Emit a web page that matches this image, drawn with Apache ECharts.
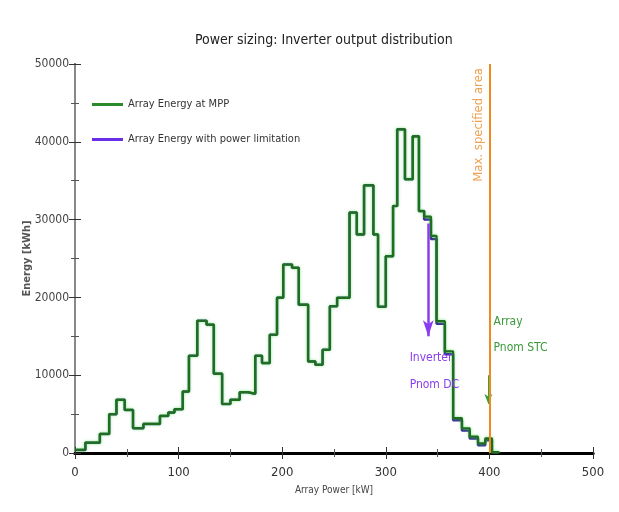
<!DOCTYPE html>
<html>
<head>
<meta charset="utf-8">
<script src="https://cdn.jsdelivr.net/npm/echarts@6/dist/echarts.min.js"></script>
<style>html,body{margin:0;padding:0;background:#fff}#c{width:619px;height:512px}</style>
</head>
<body>
<div id="c"></div>
<script>
// Histogram bins (lower edge, kW)
const binStartKW = [0,10,24,33,40,48,56,66,82,90,96,104,110,118,127,134,142,150,159,167,174,180.5,188,195,201,209.5,216,225,232,239,246,253,265,272,279,288,292.5,300,307,311,318.5,326,332,337,343.6,349,357,365,373.5,381,389,396,402.5];
const binEndKW = 409;
// Array Energy at MPP [kWh]
const energyAtMPP = [400,1330,2450,4980,6830,5540,3180,3740,4770,5200,5630,7900,12500,17000,16500,10200,6300,6830,7820,7600,12500,11560,15200,19970,24230,23800,19070,11770,11340,13270,18860,19940,30900,28100,34400,28100,18800,25300,31750,41600,35200,40700,31100,30370,27900,16940,13060,4470,3180,2100,1250,1890,100];
// Array Energy with power limitation [kWh]
const energyLimited = [400,1330,2450,4980,6830,5540,3180,3740,4770,5200,5630,7900,12500,17000,16500,10200,6300,6830,7820,7600,12500,11560,15200,19970,24230,23800,19070,11770,11340,13270,18860,19940,30900,28100,34400,28100,18800,25300,31750,41600,35200,40700,31100,30000,27500,16600,12700,4200,2900,1850,1000,1650,100];
// Annotations
const inverterPnomDC = 341;
const inverterArrow = [29500, 15000];
const arrayPnomSTC = 400;
const stcArrow = [10000, 6300];
const xTicks = [0, 500, 100];
const yTicks = [0, 50000, 10000];

const FONT = "'Liberation Sans Narrow','DejaVu Sans Condensed','Roboto Condensed',sans-serif";

function stepData(vals) {
  const d = binStartKW.map((x, i) => [x, vals[i]]);
  d.push([binEndKW, 0]);
  return d;
}

const chart = echarts.init(document.getElementById('c'), null, {renderer: 'canvas'});
const axisCommonX = {
  type: 'value', min: xTicks[0], max: xTicks[1], interval: xTicks[2],
  splitLine: {show: false},
  axisTick: {inside: true, length: 6, lineStyle: {color: '#333', width: 1}},
  minorTick: {show: true, splitNumber: 2, length: 4, lineStyle: {color: '#555'}},
  minorSplitLine: {show: false}
};
const axisCommonY = {
  type: 'value', min: yTicks[0], max: yTicks[1], interval: yTicks[2],
  splitLine: {show: false},
  axisTick: {inside: true, length: 6, lineStyle: {color: '#333', width: 1}},
  minorTick: {show: true, splitNumber: 2, length: 4, lineStyle: {color: '#555'}},
  minorSplitLine: {show: false}
};

chart.setOption({
  animation: false,
  backgroundColor: '#fff',
  title: {
    text: 'Power sizing: Inverter output distribution',
    left: 190, top: 28,
    textStyle: {fontFamily: FONT, fontSize: 14, fontWeight: 'normal', color: '#222'}
  },
  grid: {left: 75, right: 26, top: 64, bottom: 59, containLabel: false, outerBoundsMode: 'none'},
  legend: {
    orient: 'vertical', left: 87, top: 94, itemGap: 24,
    itemWidth: 31, itemHeight: 3, icon: 'rect',
    textStyle: {fontFamily: FONT, fontSize: 11, color: '#333'},
    data: [
      {name: 'Array Energy at MPP', itemStyle: {color: '#2a8a2a'}},
      {name: 'Array Energy with power limitation', itemStyle: {color: '#6a2ee8'}}
    ]
  },
  xAxis: [
    Object.assign({}, axisCommonX, {
      position: 'bottom',
      axisLine: {lineStyle: {color: '#000', width: 3}},
      axisLabel: {fontFamily: FONT, fontSize: 13, color: '#333', margin: 13},
      name: 'Array Power [kW]', nameLocation: 'middle', nameGap: 32, nameMoveOverlap: false,
      nameTextStyle: {fontFamily: FONT, fontSize: 10, color: '#444'}
    }),
    Object.assign({}, axisCommonX, {
      position: 'top',
      axisLine: {lineStyle: {color: '#000', width: 3}},
      axisLabel: {show: false}
    })
  ],
  yAxis: [
    Object.assign({}, axisCommonY, {
      position: 'left',
      axisLine: {lineStyle: {color: '#222', width: 2}},
      axisLabel: {fontFamily: FONT, fontSize: 12, color: '#444', margin: 6,
                  formatter: v => String(v)},
      name: 'Energy [kWh]', nameLocation: 'middle', nameGap: 42, nameMoveOverlap: false,
      nameTextStyle: {fontFamily: FONT, fontSize: 11, fontWeight: 'bold', color: '#555'}
    }),
    Object.assign({}, axisCommonY, {
      position: 'right',
      axisLine: {lineStyle: {color: '#888', width: 2}},
      axisLabel: {show: false}
    })
  ],
  series: [
    {
      name: 'Array Energy with power limitation',
      type: 'line', step: 'end', symbol: 'none', z: 2,
      data: stepData(energyLimited),
      lineStyle: {color: '#3b2a9a', width: 2.5},
      itemStyle: {color: '#6a2ee8'},
      markLine: {
        silent: true, symbol: ['none', 'arrow'], symbolSize: [8, 16],
        lineStyle: {color: '#8a3cf0', width: 2.5, type: 'solid'},
        label: {show: false},
        data: [[{coord: [inverterPnomDC, inverterArrow[0]]}, {coord: [inverterPnomDC, inverterArrow[1]]}]]
      },
      markPoint: {
        silent: true, symbol: 'circle', symbolSize: 0,
        data: [{
          coord: [323, 10500],
          label: {show: true, formatter: 'Inverter\nPnom DC', align: 'left', verticalAlign: 'middle',
                  fontFamily: FONT, fontSize: 12, lineHeight: 27, color: '#8a3cf0'}
        }]
      }
    },
    {
      name: 'Array Energy at MPP',
      type: 'line', step: 'end', symbol: 'none', z: 3,
      data: stepData(energyAtMPP),
      lineStyle: {color: '#1f6e1f', width: 2.2, shadowColor: 'rgba(60,210,60,0.7)', shadowBlur: 3},
      itemStyle: {color: '#2a8a2a'},
      markLine: {
        silent: true, symbol: ['none', 'arrow'], symbolSize: [6, 10],
        lineStyle: {color: '#3aa03a', width: 2, type: 'solid'},
        label: {show: false},
        data: [[{coord: [arrayPnomSTC - 1, stcArrow[0]]}, {coord: [arrayPnomSTC - 1, stcArrow[1]]}]]
      },
      markPoint: {
        silent: true, symbol: 'circle', symbolSize: 0,
        data: [{
          coord: [arrayPnomSTC + 4, 15200],
          label: {show: true, formatter: 'Array\nPnom STC', align: 'left', verticalAlign: 'middle',
                  fontFamily: FONT, fontSize: 12, lineHeight: 26, color: '#3a9a3a'}
        }]
      }
    },
    {
      name: 'Max. specified area',
      type: 'line', data: [], z: 4,
      markLine: {
        silent: true, symbol: ['none', 'none'],
        lineStyle: {color: '#f0891e', width: 2, type: 'solid'},
        label: {show: true, position: 'insideEndTop', formatter: 'Max. specified area',
                fontFamily: FONT, fontSize: 13, color: '#f0a050', distance: 4},
        data: [[{coord: [arrayPnomSTC, yTicks[0]]}, {coord: [arrayPnomSTC, yTicks[1]]}]]
      }
    }
  ]
});
</script>
</body>
</html>
